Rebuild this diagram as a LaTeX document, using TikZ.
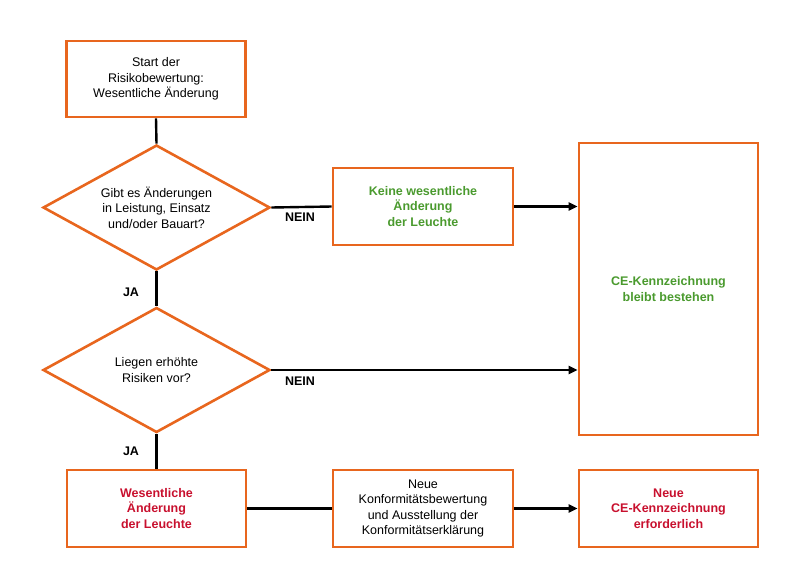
\documentclass[tikz,border=0pt]{standalone}
\usepackage{fontspec}
\setmainfont{Liberation Sans}
\usetikzlibrary{shapes.geometric,arrows.meta}
\definecolor{org}{HTML}{E8661E}
\definecolor{grn}{HTML}{4A9A2E}
\definecolor{rd}{HTML}{C8102E}
\begin{document}
\begin{tikzpicture}[x=1pt,y=-1pt,
 box/.style={draw=org,line width=2.6pt,align=center,font=\fontsize{12.5}{15.5}\selectfont,inner sep=0pt},
 dia/.style={draw=org,line width=2.6pt,diamond,align=center,font=\fontsize{12.5}{15.5}\selectfont,minimum width=227pt,minimum height=125pt,aspect=1.8,inner sep=0pt},
 ln/.style={line width=2.4pt,black},
 arr/.style={ln,-{Triangle[length=9pt,width=8pt]}},
 lab/.style={font=\fontsize{12.5}{15}\selectfont\bfseries}]
\useasboundingbox (0,0) rectangle (800,571);
\node[box,minimum width=179pt,minimum height=76pt] (s) at (156,79) {Start der\\Risikobewertung:\\Wesentliche Änderung};
\node[dia] (d1) at (156.5,207.5) {Gibt es Änderungen\\in Leistung, Einsatz\\und/oder Bauart?};
\node[box,minimum width=180pt,minimum height=77pt,text=grn,font=\fontsize{12.5}{15.5}\selectfont\bfseries] (k) at (423,206.5) {Keine wesentliche\\Änderung\\der Leuchte};
\node[box,minimum width=179pt,minimum height=292pt,text=grn,font=\fontsize{12.5}{15.5}\selectfont\bfseries] (ce) at (668.5,289) {CE-Kennzeichnung\\bleibt bestehen};
\node[dia] (d2) at (156.5,370) {Liegen erhöhte\\Risiken vor?};
\node[box,minimum width=179pt,minimum height=77pt,text=rd,font=\fontsize{12.5}{15.5}\selectfont\bfseries] (w) at (156.5,508.5) {Wesentliche\\Änderung\\der Leuchte};
\node[box,minimum width=180pt,minimum height=77pt] (n) at (423,508.5) {Neue\\Konformitätsbewertung\\und Ausstellung der\\Konformitätserklärung};
\node[box,minimum width=179pt,minimum height=77pt,text=rd,font=\fontsize{12.5}{15.5}\selectfont\bfseries] (nc) at (668.5,508.5) {Neue\\CE-Kennzeichnung\\erforderlich};
\draw[ln] (s.south) -- (d1.north);
\draw[ln] (d1.east) -- (k.west);
\draw[arr] (k.east) -- (k.east -| ce.west);
\draw[ln] (d1.south) -- (d2.north);
\draw[arr] (d2.east) -- (d2.east -| ce.west);
\draw[ln] (d2.south) -- (w.north);
\draw[ln] (w.east) -- (n.west);
\draw[arr] (n.east) -- (nc.west);
\node[lab] (l1) at (300,217) {NEIN};
\node[lab] (l2) at (300,381) {NEIN};
\node[lab] (l3) at (131,292) {JA};
\node[lab] (l4) at (131,451) {JA};
\end{tikzpicture}
\end{document}
